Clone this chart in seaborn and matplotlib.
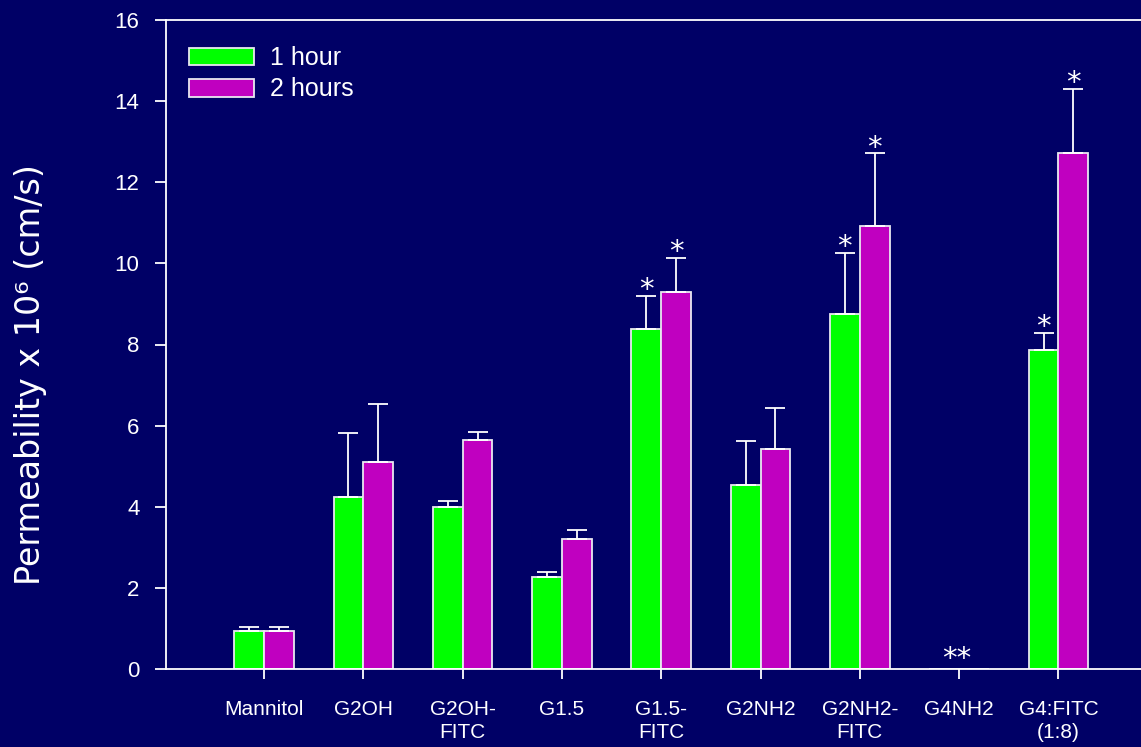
import matplotlib
matplotlib.use("Agg")
import matplotlib.pyplot as plt
import numpy as np
import pandas as pd
import seaborn as sns

# Permeability of dendrimer series at two time points
categories = ["Mannitol", "G2OH", "G2OH-\nFITC", "G1.5", "G1.5-\nFITC",
              "G2NH2", "G2NH2-\nFITC", "G4NH2", "G4:FITC\n(1:8)"]
hour1 = [0.94, 4.23, 4.00, 2.27, 8.37, 4.53, 8.74, 0.0, 7.86]
hour2 = [0.94, 5.10, 5.65, 3.20, 9.30, 5.42, 10.91, 0.0, 12.72]
err1 = [0.09, 1.58, 0.15, 0.12, 0.83, 1.08, 1.52, 0.0, 0.43]
err2 = [0.09, 1.43, 0.19, 0.22, 0.83, 1.01, 1.80, 0.0, 1.58]
sig1 = [False, False, False, False, True, False, True, False, True]
sig2 = [False, False, False, False, True, False, True, False, True]
series = ["1 hour", "2 hours"]
double_star_category = "G4NH2"

BG = "#000066"
FG = "white"
palette = {"1 hour": "#00FF00", "2 hours": "#C000C0"}

sns.set_style("ticks")
plt.rcParams["font.family"] = ["Liberation Sans", "DejaVu Sans"]

df = pd.DataFrame({
    "category": categories * 2,
    "series": [series[0]] * len(categories) + [series[1]] * len(categories),
    "value": hour1 + hour2,
})

fig = plt.figure(figsize=(11.41, 7.47), dpi=100, facecolor=BG)
ax = fig.add_axes([166 / 1141, 78 / 747, 1 - 166 / 1141, 649 / 747])
ax.set_facecolor(BG)

sns.barplot(data=df, x="category", y="value", hue="series", order=categories,
            hue_order=series, palette=palette, width=0.6, errorbar=None,
            edgecolor="#e8e8f0", linewidth=1.3, saturation=1, ax=ax)

# One-sided error bars and significance markers on top of each bar
for cont, errs, sigs in zip(ax.containers, [err1, err2], [sig1, sig2]):
    xs = np.array([b.get_x() + b.get_width() / 2 for b in cont])
    hs = np.array([b.get_height() for b in cont])
    e = np.array(errs)
    keep = e > 0
    ax.errorbar(xs[keep], hs[keep], yerr=[np.zeros(keep.sum()), e[keep]],
                fmt="none", ecolor=FG, elinewidth=1.3, capsize=7.5,
                capthick=1.3, zorder=1)
    for x, h, err, s in zip(xs, hs, e, sigs):
        if s:
            ax.annotate("*", xy=(x, h + err), xytext=(0, -6),
                        textcoords="offset points", ha="center", va="bottom",
                        color=FG, fontsize=21, family="DejaVu Sans")

ax.annotate("**", xy=(categories.index(double_star_category), 0),
            xytext=(-2, -3), textcoords="offset points", ha="center",
            va="bottom", color=FG, fontsize=21, family="DejaVu Sans")

ax.set_ylim(0, 16)
ax.set_yticks(np.arange(0, 17, 2))
ax.set_xlim(-0.987, -0.987 + 975 / 99.3)

for side in ["left", "bottom", "top"]:
    ax.spines[side].set_color(FG)
    ax.spines[side].set_linewidth(1.3)
ax.spines["right"].set_visible(False)

ax.tick_params(axis="both", colors=FG, width=1.3, direction="out")
ax.tick_params(axis="y", length=8, pad=11, labelsize=16)
ax.tick_params(axis="x", length=7, pad=15, labelsize=15)
for lab in ax.get_xticklabels():
    lab.set_linespacing(1.3)

ax.set_xlabel("")
ax.set_ylabel("")
fig.text(31 / 1141, 1 - 375 / 747, "Permeability x 10⁶ (cm/s)", rotation=90,
         ha="center", va="center", color=FG, fontsize=24, family="DejaVu Sans")

handles, labels = ax.get_legend_handles_labels()
leg = ax.legend(handles, labels, loc="upper left",
                bbox_to_anchor=(189 / 1141, 1 - 46 / 747),
                bbox_transform=fig.transFigure, frameon=False, borderpad=0,
                borderaxespad=0, handlelength=2.6, handleheight=0.7,
                handletextpad=0.65, labelspacing=0.3, fontsize=18)
for t in leg.get_texts():
    t.set_color(FG)

fig.savefig("out.png", dpi=100, facecolor=BG)
